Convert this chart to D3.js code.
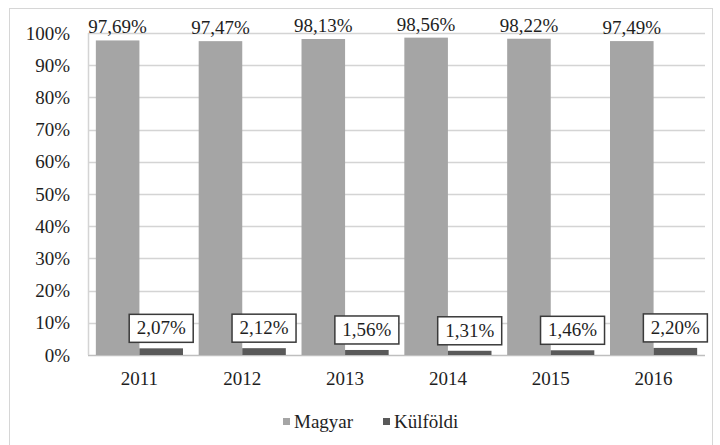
<!DOCTYPE html>
<html>
<head>
<meta charset="utf-8">
<script src="https://cdn.jsdelivr.net/npm/d3@7"></script>
<style>
  html, body { margin: 0; padding: 0; background: #fff; }
</style>
</head>
<body>
<svg id="chart" width="720" height="445"></svg>
<script>
// Share of students by origin, per year
const years = ["2011", "2012", "2013", "2014", "2015", "2016"];
const magyar = [97.69, 97.47, 98.13, 98.56, 98.22, 97.49];
const kulfoldi = [2.07, 2.12, 1.56, 1.31, 1.46, 2.20];
const seriesNames = ["Magyar", "Külföldi"];
const yTicks = [0, 10, 20, 30, 40, 50, 60, 70, 80, 90, 100];

const colors = { "Magyar": "#a5a5a5", "Külföldi": "#595959" };
const fmt = v => v.toFixed(2).replace(".", ",") + "%";
const FONT = "'Liberation Serif', 'Times New Roman', Tinos, 'DejaVu Serif', serif";
const FS = 19;
const INK = "#1e1e1e";

const svg = d3.select("#chart")
  .attr("font-family", FONT);
const plot = { left: 88, right: 705, top: 33, bottom: 355 };

// outer frame
svg.append("rect")
  .attr("x", 9.5).attr("y", 8.5)
  .attr("width", 703).attr("height", 445)
  .attr("fill", "#fff").attr("stroke", "#d6d6d6").attr("stroke-width", 1);

const x = d3.scaleBand().domain(years).range([plot.left, plot.right]).paddingInner(0).paddingOuter(0);
const x1 = d3.scaleBand().domain(seriesNames).range([0, x.bandwidth()]).paddingInner(0).paddingOuter(0.18);
const y = d3.scaleLinear().domain([0, 100]).range([plot.bottom, plot.top]);

// horizontal gridlines
svg.append("g").selectAll("line").data(yTicks).join("line")
  .attr("x1", plot.left).attr("x2", plot.right)
  .attr("y1", d => Math.round(y(d)) + 0.5).attr("y2", d => Math.round(y(d)) + 0.5)
  .attr("stroke", d => d === 0 ? "#bfbfbf" : "#d4d4d4").attr("stroke-width", 1.5);

// vertical axis line
svg.append("line")
  .attr("x1", plot.left + 0.5).attr("x2", plot.left + 0.5)
  .attr("y1", plot.top).attr("y2", plot.bottom)
  .attr("stroke", "#d4d4d4").attr("stroke-width", 1.5);

function styleAxisText(g) {
  g.attr("font-family", FONT).attr("font-size", FS);
  g.selectAll("text").attr("font-family", FONT).attr("font-size", FS).attr("fill", INK);
}

// y axis labels
const yAxis = d3.axisLeft(y).tickValues(yTicks).tickSize(0).tickPadding(18).tickFormat(d => d + "%");
const gy = svg.append("g").attr("transform", `translate(${plot.left},0)`).call(yAxis);
gy.select(".domain").remove();
styleAxisText(gy);

// x axis labels
const xAxis = d3.axisBottom(x).tickSize(0).tickPadding(17);
const gx = svg.append("g").attr("transform", `translate(0,${plot.bottom})`).call(xAxis);
gx.select(".domain").remove();
styleAxisText(gx);

const rows = years.map((yr, i) => ({ year: yr, Magyar: magyar[i], "Külföldi": kulfoldi[i] }));

// bars
const groups = svg.append("g").selectAll("g").data(rows).join("g")
  .attr("transform", d => `translate(${x(d.year)},0)`);

groups.selectAll("rect").data(d => seriesNames.map(s => ({ s, v: d[s] }))).join("rect")
  .attr("x", d => x1(d.s))
  .attr("width", x1.bandwidth())
  .attr("y", d => y(d.v))
  .attr("height", d => y(0) - y(d.v))
  .attr("fill", d => colors[d.s]);

// Magyar value labels above bars
groups.append("text")
  .attr("x", x1("Magyar") + x1.bandwidth() / 2)
  .attr("y", d => y(d.Magyar) - 7)
  .attr("text-anchor", "middle")
  .attr("font-size", FS)
  .attr("fill", INK)
  .text(d => fmt(d.Magyar));

// Külföldi value labels in framed boxes
const boxW = 64, boxH = 28;
const kl = groups.append("g")
  .attr("transform", d => `translate(${x1("Külföldi") + x1.bandwidth() / 2},${y(d["Külföldi"]) - 6 - boxH})`);
kl.append("rect")
  .attr("x", -boxW / 2).attr("y", 0)
  .attr("width", boxW).attr("height", boxH)
  .attr("fill", "#fff").attr("stroke", "#3a3a3a").attr("stroke-width", 1.5);
kl.append("text")
  .attr("x", 0).attr("y", boxH / 2 + 6)
  .attr("text-anchor", "middle")
  .attr("font-size", FS)
  .attr("fill", INK)
  .text(d => fmt(d["Külföldi"]));

// legend
const legendItems = [
  { name: "Magyar", x: 283 },
  { name: "Külföldi", x: 383 }
];
const lg = svg.append("g").selectAll("g").data(legendItems).join("g")
  .attr("transform", d => `translate(${d.x},422)`);
lg.append("rect").attr("x", 0).attr("y", -4).attr("width", 7).attr("height", 7)
  .attr("fill", d => colors[d.name]);
lg.append("text").attr("x", 11).attr("y", 6).attr("font-size", FS).attr("fill", INK).text(d => d.name);
</script>
</body>
</html>
